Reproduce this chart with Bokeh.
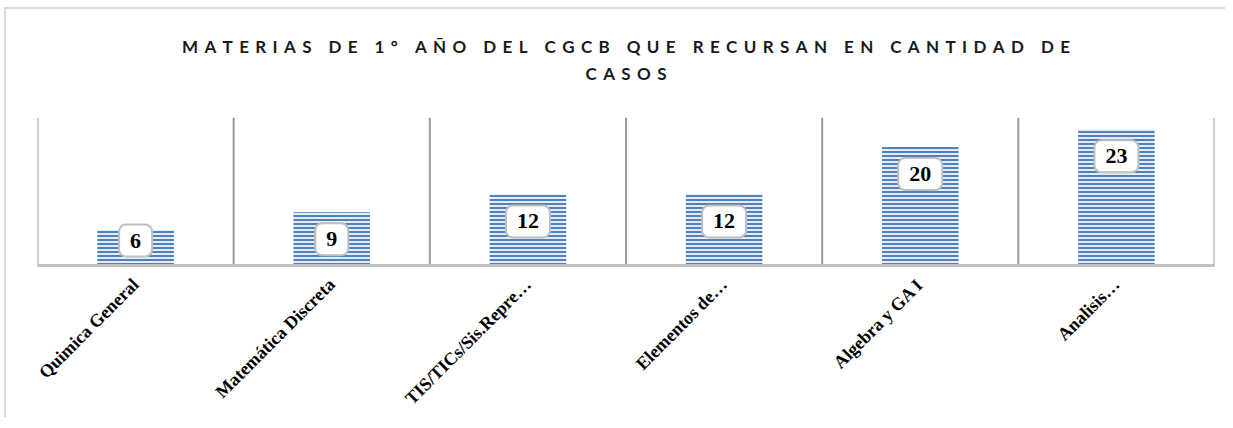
import numpy as np
from bokeh.plotting import figure
from bokeh.models import Range1d, FixedTicker, Label, LinearAxis
from bokeh.embed import file_html
from bokeh.resources import INLINE

categories = ["Quimica General", "Matemática Discreta", "TIS/TICs/Sis.Repre…",
              "Elementos de…", "Algebra y GA I", "Analisis…"]
values = [6, 9, 12, 12, 20, 23]
title_lines = ["MATERIAS DE 1° AÑO DEL CGCB QUE RECURSAN EN CANTIDAD DE", "CASOS"]


def spaced(s):
    letter_sep = "\u2009\u2005"
    word_sep = "\u2002\u2002"
    return word_sep.join(letter_sep.join(list(w)) for w in s.split(" "))


Y_MAX = 25
FRAME_H = 148
px_per_unit = FRAME_H / Y_MAX

W, H = 1221, 410
p = figure(width=W, height=H, output_backend="svg", toolbar_location=None,
           title=None,
           x_range=Range1d(-0.5, len(categories) - 0.5), y_range=Range1d(0, Y_MAX),
           min_border_left=31, min_border_right=13, min_border_top=108,
           min_border_bottom=H - 108 - FRAME_H)
p.styles = {"border-left": "2px solid #d9d9d9", "border-top": "2px solid #d9d9d9",
            "margin-top": "7px", "margin-left": "4px"}
p.outline_line_color = None
p.background_fill_color = "white"
p.border_fill_color = "white"
p.grid.visible = False
p.yaxis.visible = False

xs = np.arange(len(categories))

# category axis (bottom)
ax = p.below[0]
ax.ticker = FixedTicker(ticks=list(xs))
ax.major_label_overrides = {int(i): c for i, c in zip(xs, categories)}
ax.major_label_orientation = np.pi / 4
ax.major_label_text_font = "Liberation Serif"
ax.major_label_text_font_style = "bold"
ax.major_label_text_font_size = "18px"
ax.major_label_text_color = "black"
ax.major_label_standoff = 10
ax.axis_line_color = "#bfbfbf"
ax.axis_line_width = 3
ax.major_tick_line_color = None
ax.minor_tick_line_color = None

# chart title: centred two-line text on a bare top axis
mid = float((len(categories) - 1) / 2)
tax = LinearAxis(ticker=FixedTicker(ticks=[mid]),
                 major_label_overrides={mid: "\n".join(spaced(t) for t in title_lines)},
                 major_label_text_font="Lato", major_label_text_font_size="17px",
                 major_label_text_font_style="bold", major_label_text_color="#1a1a1a",
                 major_label_text_line_height=1.26, major_label_standoff=28,
                 axis_line_color=None, major_tick_line_color=None,
                 minor_tick_line_color=None)
p.add_layout(tax, "above")

# category separators
for i in range(len(categories) + 1):
    p.segment(x0=i - 0.5, x1=i - 0.5, y0=0, y1=Y_MAX, line_color="#9a9a9a", line_width=2)

# bars
p.vbar(x=xs, top=values, width=0.39, bottom=0, fill_color="#e4ecf7",
       line_color=None,
       hatch_pattern="horizontal_line", hatch_color="#4f81bd", hatch_scale=4,
       hatch_weight=2)

# data labels
for x, v in zip(xs, values):
    off_px = min(27, v * px_per_unit - 25)
    p.add_layout(Label(x=x, y=v - off_px / px_per_unit, text=str(v),
                       text_font="Liberation Serif", text_font_style="bold",
                       text_font_size="22px", text_align="center",
                       text_baseline="middle", text_color="black",
                       background_fill_color="white", border_line_color="#bfbfbf",
                       border_line_width=2, border_radius=7, padding=(11, 9)))

open("out.html", "w").write(file_html(p, INLINE))
